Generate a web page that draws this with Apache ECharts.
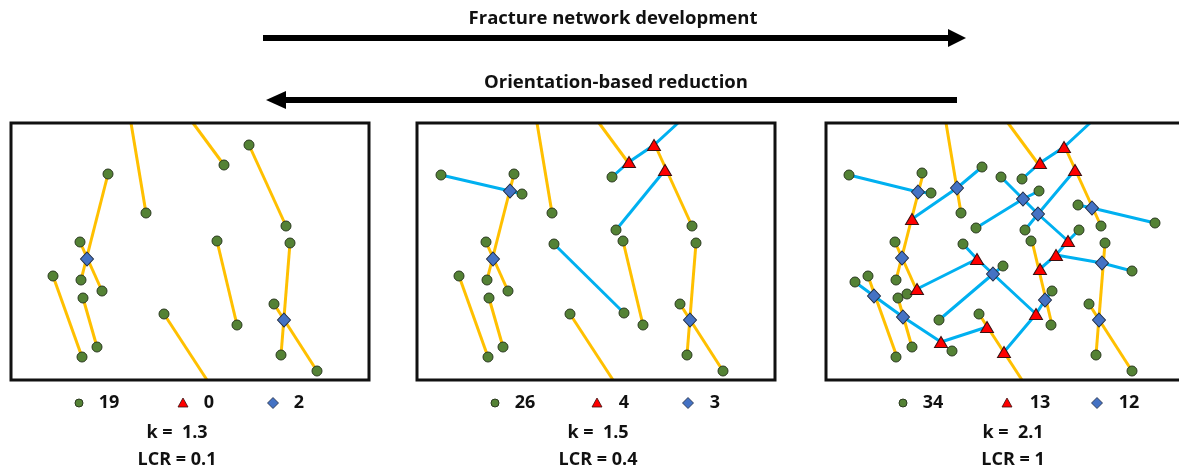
<!DOCTYPE html>
<html>
<head>
<meta charset="utf-8">
<script src="https://cdn.jsdelivr.net/npm/echarts@6/dist/echarts.min.js"></script>
<style>
html,body{margin:0;padding:0;background:#fff;}
#chart{width:1179px;height:472px;}
</style>
</head>
<body>
<div id="chart"></div>
<script>
// ---- DATA (panel-local coordinates) ----
const yellowSegs = [
  [[120,0],[135,90]], [[182,0],[213,42]], [[238,22],[275,103]], [[97,51],[70,157]],
  [[69,119],[91,168]], [[42,153],[71,234]], [[72,175],[86,224]], [[153,191],[196,257]],
  [[206,118],[226,202]], [[279,120],[270,232]], [[263,181],[306,248]]
];
// Panel 1
const p1Cyan = [];
const p1Green = [[135,90],[213,42],[238,22],[275,103],[97,51],[70,157],[69,119],[91,168],[42,153],[71,234],[72,175],[86,224],[153,191],[206,118],[226,202],[279,120],[270,232],[263,181],[306,248]];
const p1Tri = [];
const p1Dia = [[76,136],[273,197]];
// Panel 2
const p2Cyan = [
  [[261,0],[237,22],[212,39],[195,54]], [[248,47],[199,107]],
  [[24,52],[93,68],[105,71]], [[137,121],[207,190]]
];
const p2Green = [[135,90],[275,103],[97,51],[70,157],[69,119],[91,168],[42,153],[71,234],[72,175],[86,224],[153,191],[206,118],[226,202],[279,120],[270,232],[263,181],[306,248],[195,54],[199,107],[24,52],[105,71],[137,121],[207,190]];
const p2Tri = [[212,39],[237,22],[248,47]];
const p2Dia = [[93,68],[76,136],[273,197]];
// Panel 3
const p3Cyan = [
  [[264,0],[238,24],[214,40],[196,56]], [[249,47],[212,91],[199,107]],
  [[23,52],[92,69],[105,70]], [[86,96],[131,65],[156,44]],
  [[175,54],[197,76],[212,91],[242,118]], [[150,105],[197,76],[213,68]],
  [[252,82],[266,85],[329,100]], [[137,121],[151,136],[167,151],[210,191]],
  [[91,166],[151,136]], [[113,197],[167,151],[177,143]],
  [[29,159],[48,173],[77,194],[115,219]], [[115,219],[161,204]],
  [[178,229],[210,191],[219,177],[226,168]], [[214,146],[230,132],[242,118],[253,107]],
  [[230,132],[276,140],[306,148]]
];
const p3Green = [[23,52],[96,50],[105,70],[156,44],[175,54],[196,56],[213,68],[135,90],[150,105],[199,107],[252,82],[275,103],[329,100],[69,119],[137,121],[205,118],[253,107],[279,120],[306,148],[29,159],[42,153],[70,157],[72,175],[81,171],[177,143],[226,168],[113,197],[153,191],[225,202],[263,181],[86,224],[126,228],[70,234],[270,232],[306,248]];
const p3Tri = [[214,40],[238,24],[249,47],[86,96],[91,166],[151,136],[115,219],[161,204],[178,229],[210,191],[214,146],[230,132],[242,118]];
const p3Dia = [[92,69],[131,65],[197,76],[212,91],[266,85],[76,135],[276,140],[167,151],[48,173],[77,194],[219,177],[273,197]];

const counts = [[19,0,2],[26,4,3],[34,13,12]];
const kVals = ['k =  1.3','k =  1.5','k =  2.1'];
const lcrVals = ['LCR = 0.1','LCR = 0.4','LCR = 1'];
const arrowTexts = ['Fracture network development','Orientation-based reduction'];

// ---- LAYOUT ----
const panelLeft = [11, 417, 826];
const panelTop = 123, panelW = 358, panelH = 257;
const gridW = [358, 358, 352];   // last panel runs past the page edge
const panels = [
  {cyan:p1Cyan, green:p1Green, tri:p1Tri, dia:p1Dia},
  {cyan:p2Cyan, green:p2Green, tri:p2Tri, dia:p2Dia},
  {cyan:p3Cyan, green:p3Green, tri:p3Tri, dia:p3Dia}
];
const YEL='#FFC000', CYA='#00B0F0', GRN='#548235', RED='#FF0000', BLU='#4472C4';
const FONT = '"Open Sans", sans-serif';

const grids=[], xAxes=[], yAxes=[], series=[], graphic=[];
panels.forEach((p,i)=>{
  grids.push({left:panelLeft[i], top:panelTop, width:gridW[i], height:panelH, show:false});
  xAxes.push({gridIndex:i, type:'value', min:0, max:gridW[i], show:false});
  yAxes.push({gridIndex:i, type:'value', min:0, max:panelH, inverse:true, show:false});
  graphic.push({type:'rect', z:100, shape:{x:panelLeft[i], y:panelTop, width:panelW, height:panelH},
    style:{fill:'none', stroke:'#111', lineWidth:3}});
  series.push({type:'lines', coordinateSystem:'cartesian2d', xAxisIndex:i, yAxisIndex:i, polyline:true, z:2,
    lineStyle:{color:YEL, width:3, opacity:1}, data: yellowSegs.map(c=>({coords:c}))});
  series.push({type:'lines', coordinateSystem:'cartesian2d', xAxisIndex:i, yAxisIndex:i, polyline:true, z:3,
    lineStyle:{color:CYA, width:3, opacity:1}, data: p.cyan.map(c=>({coords:c}))});
  series.push({type:'scatter', xAxisIndex:i, yAxisIndex:i, z:4, symbol:'circle', symbolSize:10,
    itemStyle:{color:GRN, borderColor:'#2b3a20', borderWidth:1, opacity:1}, data:p.green});
  series.push({type:'scatter', xAxisIndex:i, yAxisIndex:i, z:5, symbol:'triangle', symbolSize:[13,11],
    itemStyle:{color:RED, borderColor:'#3a1010', borderWidth:1, opacity:1}, data:p.tri});
  series.push({type:'scatter', xAxisIndex:i, yAxisIndex:i, z:5, symbol:'diamond', symbolSize:[13,14],
    itemStyle:{color:BLU, borderColor:'#1f2a40', borderWidth:1, opacity:1}, data:p.dia});
});

// bottom legends / captions
const legendX = [[79,109,183,209,273,299],[495,525,597,624,688,715],[903,933,1007,1040,1097,1129]];
const capX = [177, 598, 1013];
counts.forEach((c,i)=>{
  const lx = legendX[i], y=403;
  graphic.push({type:'circle', shape:{cx:lx[0], cy:y, r:4}, style:{fill:GRN, stroke:'#2b3a20', lineWidth:1}});
  graphic.push({type:'polygon', shape:{points:[[lx[2],y-5],[lx[2]+5,y+4],[lx[2]-5,y+4]]}, style:{fill:RED, stroke:'#3a1010', lineWidth:0.8}});
  graphic.push({type:'polygon', shape:{points:[[lx[4],y-5.5],[lx[4]+5.5,y],[lx[4],y+5.5],[lx[4]-5.5,y]]}, style:{fill:BLU, stroke:'#1f2a40', lineWidth:0.8}});
  [c[0],c[1],c[2]].forEach((v,j)=>{
    graphic.push({type:'text', x:lx[2*j+1], y:y, style:{text:String(v), font:'bold 18px '+FONT, fill:'#111', textAlign:'center', textVerticalAlign:'middle'}});
  });
  graphic.push({type:'text', x:capX[i], y:433, style:{text:kVals[i], font:'bold 18px '+FONT, fill:'#111', textAlign:'center', textVerticalAlign:'middle'}});
  graphic.push({type:'text', x:capX[i], y:460, style:{text:lcrVals[i], font:'bold 18px '+FONT, fill:'#111', textAlign:'center', textVerticalAlign:'middle'}});
});
// arrows
graphic.push({type:'rect', shape:{x:263, y:35, width:687, height:6}, style:{fill:'#000'}});
graphic.push({type:'polygon', shape:{points:[[948,29],[966,38],[948,47]]}, style:{fill:'#000'}});
graphic.push({type:'rect', shape:{x:284, y:97, width:673, height:6}, style:{fill:'#000'}});
graphic.push({type:'polygon', shape:{points:[[286,91],[266,100],[286,109]]}, style:{fill:'#000'}});
graphic.push({type:'text', x:613, y:19, style:{text:arrowTexts[0], font:'bold 18.5px '+FONT, fill:'#111', textAlign:'center', textVerticalAlign:'middle'}});
graphic.push({type:'text', x:616, y:83, style:{text:arrowTexts[1], font:'bold 18.5px '+FONT, fill:'#111', textAlign:'center', textVerticalAlign:'middle'}});

const chart = echarts.init(document.getElementById('chart'), null, {renderer:'canvas'});
chart.setOption({
  animation:false,
  backgroundColor:'#fff',
  grid:grids, xAxis:xAxes, yAxis:yAxes, series:series,
  graphic:graphic
});
</script>
</body>
</html>
